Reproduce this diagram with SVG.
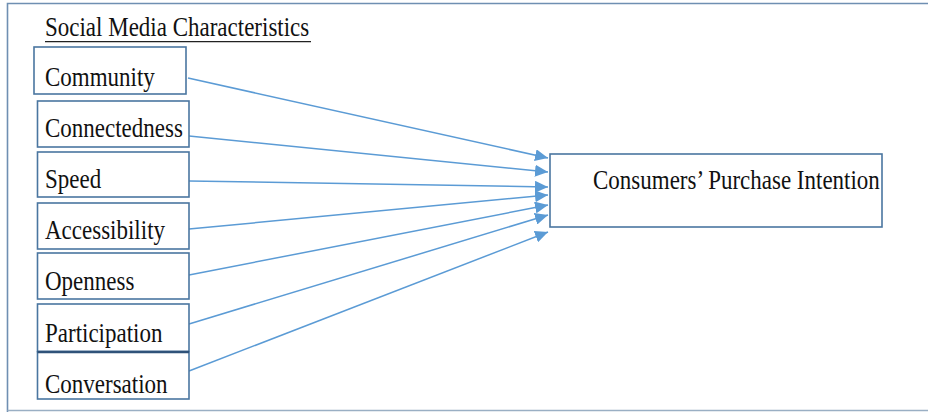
<svg xmlns="http://www.w3.org/2000/svg" width="928" height="412" viewBox="0 0 928 412">
<style>
.box{fill:#fff;stroke:#4a76a0;stroke-width:1.6}
.lbl{font-family:'Liberation Serif','Times New Roman',serif;font-size:23px;fill:#111}
.con{stroke:#5b9bd5;stroke-width:1.5;fill:none}
</style>
<defs>
<marker id="ah" markerUnits="userSpaceOnUse" markerWidth="14" markerHeight="12" refX="13" refY="6" orient="auto">
<path d="M0,0 L13,6 L0,12 z" fill="#5b9bd5"/>
</marker>
</defs>
<rect width="928" height="412" fill="#fff"/>
<g id="frame">
<path d="M7.5,412 L7.5,3.5 L930,3.5" fill="none" stroke="#6f8fb2" stroke-width="1.6"/>
<path d="M7.5,410.5 L930,410.5" fill="none" stroke="#9aafc4" stroke-width="1.4"/>
</g>
<g id="title">
<text class="lbl" transform="translate(45,36) scale(1,1.18)">Social Media Characteristics</text>
<line x1="45" y1="41.7" x2="311" y2="41.7" stroke="#222" stroke-width="1.3"/>
</g>
<g id="connectors">
<line class="con" x1="188" y1="78" x2="548" y2="158" marker-end="url(#ah)"/>
<line class="con" x1="189" y1="136" x2="548" y2="172" marker-end="url(#ah)"/>
<line class="con" x1="189" y1="181" x2="548" y2="187" marker-end="url(#ah)"/>
<line class="con" x1="189" y1="229" x2="548" y2="195" marker-end="url(#ah)"/>
<line class="con" x1="189" y1="275" x2="548" y2="205" marker-end="url(#ah)"/>
<line class="con" x1="189" y1="324" x2="548" y2="215" marker-end="url(#ah)"/>
<line class="con" x1="189" y1="371" x2="548" y2="232" marker-end="url(#ah)"/>
</g>
<g id="community">
<rect class="box" x="34" y="47" width="152" height="47"/>
<text class="lbl" transform="translate(45,86) scale(1,1.18)">Community</text>
</g>
<g id="connectedness">
<rect class="box" x="37.5" y="101" width="151.5" height="46"/>
<text class="lbl" transform="translate(45,137) scale(1,1.18)">Connectedness</text>
</g>
<g id="speed">
<rect class="box" x="37.5" y="152" width="151.5" height="45"/>
<text class="lbl" transform="translate(45,188) scale(1,1.18)">Speed</text>
</g>
<g id="accessibility">
<rect class="box" x="37.5" y="203" width="151.5" height="46"/>
<text class="lbl" transform="translate(45,239) scale(1,1.18)">Accessibility</text>
</g>
<g id="openness">
<rect class="box" x="37.5" y="253" width="151.5" height="46"/>
<text class="lbl" transform="translate(45,290) scale(1,1.18)">Openness</text>
</g>
<g id="participation">
<rect class="box" x="37.5" y="304" width="151.5" height="47.5"/>
<text class="lbl" transform="translate(45,341.5) scale(1,1.18)">Participation</text>
</g>
<g id="conversation">
<rect class="box" x="37.5" y="352" width="151.5" height="47"/>
<line x1="37.5" y1="352" x2="189" y2="352" stroke="#2f5279" stroke-width="2.4"/>
<text class="lbl" transform="translate(45,393) scale(1,1.18)">Conversation</text>
</g>
<g id="purchase-intention">
<rect class="box" x="550" y="154" width="332" height="73"/>
<text class="lbl" transform="translate(593,189) scale(1,1.18)">Consumers’ Purchase Intention</text>
</g>
</svg>
